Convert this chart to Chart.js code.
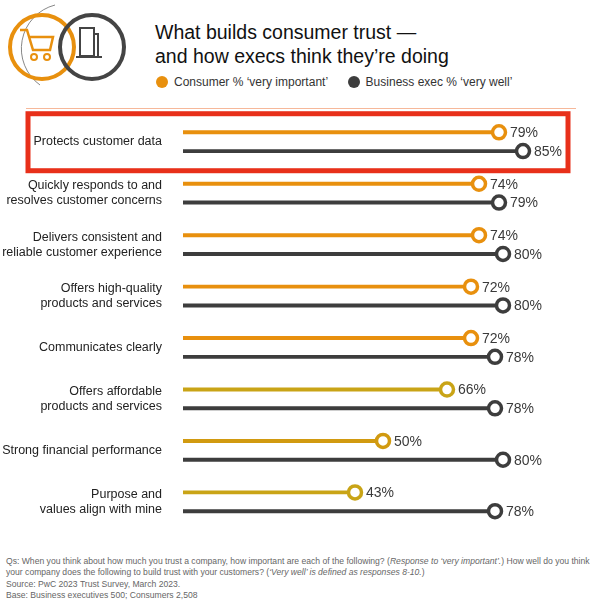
<!DOCTYPE html>
<html><head><meta charset="utf-8">
<script src="https://cdn.jsdelivr.net/npm/chart.js@4"></script>
<style>
body{margin:0;width:600px;height:600px;background:#fff;font-family:"Liberation Sans",Arial,sans-serif;position:relative;overflow:hidden}
#title{position:absolute;left:155px;top:20px;font-size:19.5px;line-height:24px;color:#111}
#legend{position:absolute;left:156px;top:75px;font-size:12px;color:#333}
#legend span.d{display:inline-block;width:12px;height:12px;border-radius:50%;vertical-align:-2px;margin-right:6px}
#sep{position:absolute;left:26px;top:108px;width:550px;height:1px;background:#f6b89a}
#foot{position:absolute;left:6px;top:556px;font-size:8.6px;line-height:11.3px;color:#666;width:590px}
#wrap{position:absolute;left:0;top:88px;width:600px;height:460px}
</style></head><body>
<svg style="position:absolute;left:0;top:0" width="140" height="100">
<path d="M55 5 A45 45 0 0 0 40 85" fill="none" stroke="#888" stroke-width="1"/>
<circle cx="42" cy="47" r="32" fill="none" stroke="#e8900e" stroke-width="4"/>
<circle cx="92" cy="47" r="32" fill="none" stroke="#444" stroke-width="4"/>
<path d="M20 30 L27 30 L33 50 L50 50 L53 37 L29 37" fill="none" stroke="#e8900e" stroke-width="2.5"/>
<circle cx="34" cy="57" r="3" fill="none" stroke="#e8900e" stroke-width="2"/>
<circle cx="47" cy="57" r="3" fill="none" stroke="#e8900e" stroke-width="2"/>
<rect x="80" y="28" width="14" height="28" fill="none" stroke="#444" stroke-width="2"/>
<path d="M94 34 L98 34 L98 56 M76 57 L102 57" fill="none" stroke="#444" stroke-width="2"/>
</svg>
<div id="title">What builds consumer trust —<br>and how execs think they’re doing</div>
<div id="legend"><span class="d" style="background:#e8900e"></span>Consumer % ‘very important’ &nbsp;&nbsp;&nbsp;&nbsp;&nbsp;<span class="d" style="background:#3d3d3d"></span>Business exec % ‘very well’</div>
<div id="sep"></div>
<div id="wrap"><canvas id="c" width="600" height="460"></canvas></div>
<div id="foot">Qs: When you think about how much you trust a company, how important are each of the following? (<i>Response to ‘very important’.</i>) How well do you think your company does the following to build trust with your customers? (<i>‘Very well’ is defined as responses 8-10.</i>)<br>Source: PwC 2023 Trust Survey, March 2023.<br>Base: Business executives 500; Consumers 2,508</div>
<script>
const categories=[
 "Protects customer data",
 ["Quickly responds to and","resolves customer concerns"],
 ["Delivers consistent and","reliable customer experience"],
 ["Offers high-quality","products and services"],
 "Communicates clearly",
 ["Offers affordable","products and services"],
 "Strong financial performance",
 ["Purpose and","values align with mine"]];
const consumerValues=[79,74,74,72,72,66,50,43];
const execValues=[85,79,80,80,78,78,80,78];
const consumerColors=["#e8900e","#e8900e","#e8900e","#e8900e","#e8900e","#c9a416","#d19a10","#c9a416"];
const execColor="#3d3d3d";

const endPlugin={id:'ends',
 beforeDatasetsDraw(chart){
   const ctx=chart.ctx,y=chart.scales.y;
   const top=y.getPixelForValue(0)-28,bot=y.getPixelForValue(0)+29;
   ctx.save();ctx.strokeStyle="#e8301a";ctx.lineWidth=5;
   ctx.strokeRect(28,top,540,bot-top);ctx.restore();
 },
 afterDatasetsDraw(chart){
  const ctx=chart.ctx;
  chart.data.datasets.forEach((ds,di)=>{
   chart.getDatasetMeta(di).data.forEach((el,i)=>{
    const col=Array.isArray(ds.backgroundColor)?ds.backgroundColor[i]:ds.backgroundColor;
    ctx.save();ctx.beginPath();ctx.arc(el.x,el.y,6.5,0,Math.PI*2);
    ctx.fillStyle="#fff";ctx.fill();ctx.lineWidth=3.5;ctx.strokeStyle=col;ctx.stroke();
    ctx.fillStyle="#3a3a3a";ctx.font="14px 'Liberation Sans', Arial";ctx.textBaseline="middle";
    ctx.fillText(ds.data[i]+"%",el.x+11,el.y+1);ctx.restore();
   });
  });
 }};

new Chart(document.getElementById('c'),{
 type:'bar',
 data:{labels:categories,datasets:[
  {data:consumerValues,backgroundColor:consumerColors},
  {data:execValues,backgroundColor:execColor}]},
 options:{indexAxis:'y',responsive:false,animation:false,
  categoryPercentage:0.73,barPercentage:0.21,
  layout:{padding:{top:4,right:17,bottom:0,left:0}},
  plugins:{legend:{display:false},tooltip:{enabled:false}},
  scales:{
   x:{display:false,min:0,max:100},
   y:{grid:{display:false},border:{display:false},
      ticks:{color:"#222",font:{size:12.5,family:"'Liberation Sans', Arial"},padding:13,crossAlign:'near'},
      afterFit(s){s.width=183;}}
  }},
 plugins:[endPlugin]
});
</script>
</body></html>
